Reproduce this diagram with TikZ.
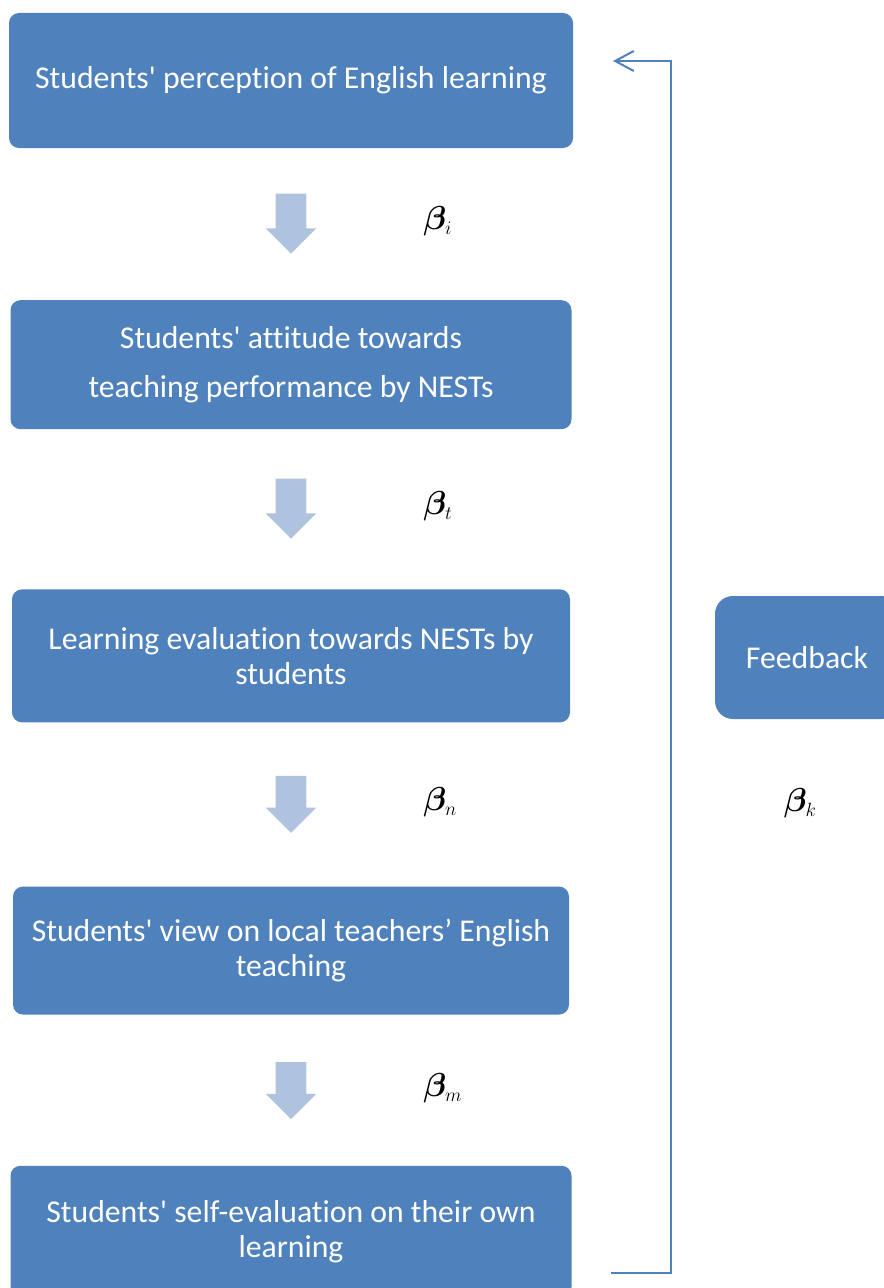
\documentclass[tikz,border=0pt]{standalone}
\usepackage{fontspec}
\usepackage{bm}
\setmainfont{Carlito}[Ligatures=NoCommon]
\usetikzlibrary{positioning,shapes.arrows,arrows.meta}

\definecolor{boxblue}{HTML}{4F81BD}
\definecolor{arrowblue}{HTML}{AFC3DE}
\newcommand{\coef}[1]{$\bm\beta_{\scriptscriptstyle #1}$}

\tikzset{
  stage/.style={fill=boxblue, rounded corners=7.5pt, text=white, align=center,
    font=\fontsize{23.8}{26.25}\selectfont},
  down/.style={single arrow, shape border rotate=270, fill=arrowblue,
    inner sep=11.25pt, single arrow head extend=7.5pt,
    minimum width=37.5pt, minimum height=45pt},
  coefnode/.style={font=\fontsize{28}{28}\selectfont, yshift=-4pt},
  loopline/.style={draw=boxblue, line width=1.5pt, -{Straight Barb[length=14pt,width=15pt]}},
}

\begin{document}
\begin{tikzpicture}[x=0.75pt, y=-0.75pt]
  \useasboundingbox (0,0) rectangle (884,1288);

  \node[stage, minimum width=423pt, minimum height=101.25pt] (percep) at (291,80.5)
    {Students\textquotesingle{} perception of English learning};
  \node[down, below=33.75pt of percep] (a1) {};
  \node[stage, minimum width=420.75pt, minimum height=96.75pt,
    font=\fontsize{23.8}{36.75}\selectfont, below=34.5pt of a1] (attitude)
    {Students\textquotesingle{} attitude towards\\teaching performance by NESTs};
  \node[down, below=36.75pt of attitude] (a2) {};
  \node[stage, minimum width=418.5pt, minimum height=99.75pt, below=37.5pt of a2] (evaluation)
    {Learning evaluation towards NESTs by\\students};
  \node[down, minimum height=42.75pt, below=39.75pt of evaluation] (a3) {};
  \node[stage, minimum width=417pt, minimum height=96pt, below=39.75pt of a3] (localview)
    {Students\textquotesingle{} view on local teachers’ English\\teaching};
  \node[down, minimum height=42.75pt, below=35.25pt of localview] (a4) {};
  \node[stage, minimum width=420.75pt, minimum height=98.25pt, below=34.5pt of a4] (selfeval)
    {Students\textquotesingle{} self-evaluation on their own\\learning};

  \node[stage, rounded corners=13.5pt, minimum width=138pt, minimum height=92.25pt]
    (feedback) at (807,657.5) {Feedback};

  % coefficients
  \node[coefnode, right=84pt of a1] (bi) {\coef{i}};
  \node[coefnode, right=84pt of a2] (bt) {\coef{t}};
  \node[coefnode, right=84pt of a3] (bn) {\coef{n}};
  \node[coefnode, right=84pt of a4] (bm) {\coef{m}};
  \node[coefnode, below=44pt of feedback, xshift=-5pt] (bk) {\coef{k}};

  % feedback loop
  \coordinate (fbout) at (611,1273);
  \coordinate (fbin) at (613,61);
  \draw[loopline] (fbout) -- ++(60,0) |- (fbin);
\end{tikzpicture}
\end{document}
